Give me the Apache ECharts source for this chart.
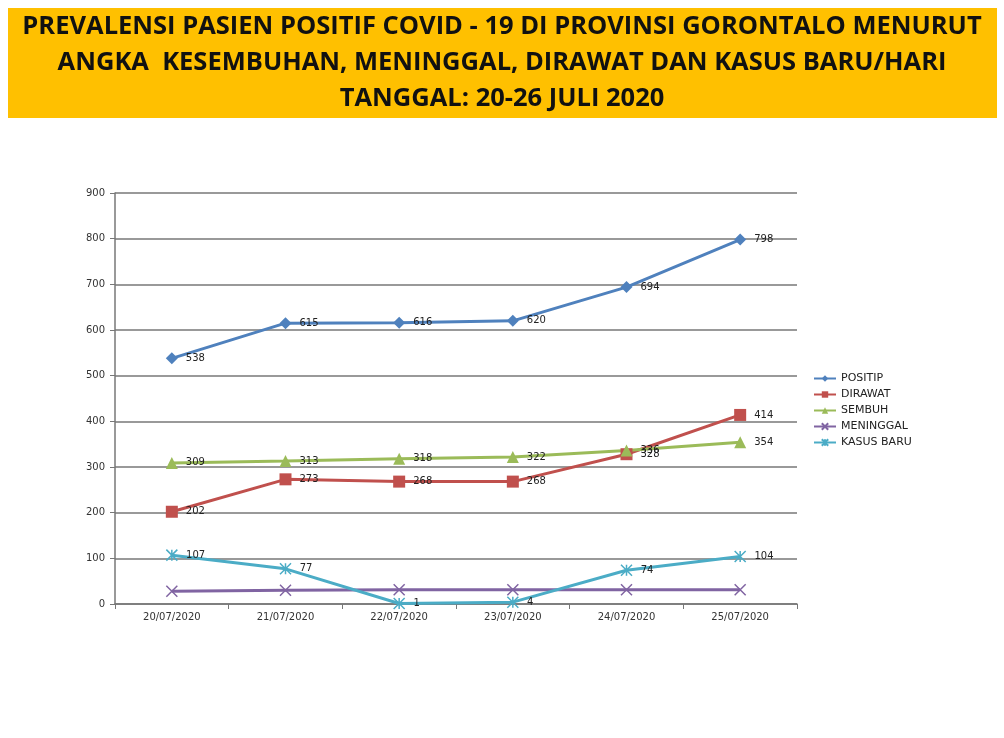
<!DOCTYPE html>
<html><head><meta charset="utf-8">
<script src="https://cdn.jsdelivr.net/npm/echarts@6/dist/echarts.min.js"></script>
<style>html,body{margin:0;padding:0;background:#fff}#c{width:1004px;height:738px}</style>
</head><body><div id="c"></div>
<script>
const categories = ['20/07/2020','21/07/2020','22/07/2020','23/07/2020','24/07/2020','25/07/2020'];
const positip = [538, 615, 616, 620, 694, 798];
const dirawat = [202, 273, 268, 268, 328, 414];
const sembuh = [309, 313, 318, 322, 336, 354];
const meninggal = [28, 30, 31, 31, 31, 31];
const kasusBaru = [107, 77, 1, 4, 74, 104];
const titleText = 'PREVALENSI PASIEN POSITIF COVID - 19 DI PROVINSI GORONTALO MENURUT\nANGKA  KESEMBUHAN, MENINGGAL, DIRAWAT DAN KASUS BARU/HARI\nTANGGAL: 20-26 JULI 2020';

const chart = echarts.init(document.getElementById('c'));
const lbl = {show:true, position:'right', distance:8, fontSize:10, color:'#222', fontFamily:'DejaVu Sans'};
function S(name, data, color, symbol, size, showLabel, stroke){
  return {name, type:'line', data, symbol, symbolSize:size,
    lineStyle:{color, width:3}, itemStyle:{color, borderColor:color, borderWidth: stroke?1.5:0},
    label: showLabel ? lbl : {show:false}, emphasis:{disabled:true}};
}
const xPath = 'path://M0,0L10,10M10,0L0,10';
const starPath = 'path://M0,0L10,10M10,0L0,10M5,0L5,10';
chart.setOption({
  animation:false,
  backgroundColor:'#fff',
  graphic:[
    {type:'rect', shape:{x:8,y:8,width:989,height:110}, style:{fill:'#FFC000'}, z:-1},
    {type:'text', x:502, y:9, style:{text:titleText, align:'center', verticalAlign:'top',
      font:'bold 25.5px "Open Sans", sans-serif', lineHeight:36, fill:'#111'}}
  ],
  grid:{left:115, right:207, top:193, bottom:134},
  legend:{orient:'vertical', left:808, top:368, itemWidth:22, itemHeight:8, itemGap:5,
    textStyle:{fontSize:11, color:'#222', fontFamily:'DejaVu Sans'},
    data:['POSITIP','DIRAWAT','SEMBUH','MENINGGAL','KASUS BARU']},
  xAxis:{type:'category', data:categories, boundaryGap:true,
    axisLine:{lineStyle:{color:'#777', width:1.5}},
    axisTick:{show:true, length:5, lineStyle:{color:'#777'}},
    axisLabel:{fontSize:10, color:'#333', fontFamily:'DejaVu Sans', margin:8}},
  yAxis:{type:'value', min:0, max:900, interval:100,
    axisLine:{show:true, lineStyle:{color:'#777', width:1.5}},
    axisTick:{show:true, length:5, lineStyle:{color:'#777'}},
    axisLabel:{fontSize:10, color:'#333', fontFamily:'DejaVu Sans', margin:10},
    splitLine:{lineStyle:{color:'#777', width:1.5}}},
  series:[
    S('POSITIP', positip, '#4F81BD', 'diamond', 12, true, false),
    S('DIRAWAT', dirawat, '#C0504D', 'rect', 12, true, false),
    S('SEMBUH', sembuh, '#9BBB59', 'triangle', 12, true, false),
    S('MENINGGAL', meninggal, '#8064A2', xPath, 11, false, true),
    S('KASUS BARU', kasusBaru, '#4BACC6', starPath, 11, true, true)
  ]
});
</script></body></html>
